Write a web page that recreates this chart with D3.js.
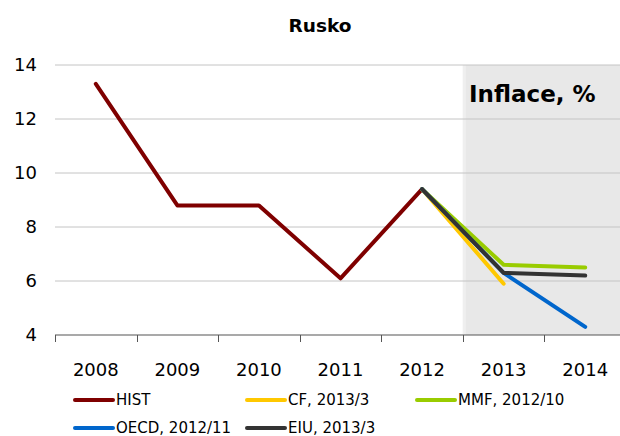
<!DOCTYPE html>
<html>
<head>
<meta charset="utf-8">
<script src="https://cdn.jsdelivr.net/npm/d3@7"></script>
<style>
  body { margin: 0; background: #fff; }
  svg { display: block; font-family: "DejaVu Sans", Verdana, sans-serif; }
</style>
</head>
<body>
<div id="chart"></div>
<script>
// data
const years = ["2008", "2009", "2010", "2011", "2012", "2013", "2014"];
const forecastYears = ["2013", "2014"];
const yTicks = [4, 6, 8, 10, 12, 14];

const hist = [13.3, 8.8, 8.8, 6.1, 9.4];          // 2008..2012
const cf   = [9.4, 5.9];                           // 2012..2013
const mmf  = [9.4, 6.6, 6.5];                      // 2012..2014
const oecd = [9.4, 6.3, 4.3];
const eiu  = [9.4, 6.3, 6.2];

const seriesNames = ["HIST", "CF, 2013/3", "MMF, 2012/10", "OECD, 2012/11", "EIU, 2013/3"];
const seriesColors = ["#7f0000", "#ffc800", "#99cc00", "#0066cc", "#333333"];

const width = 620, height = 436;
const margin = { top: 65, right: -6, bottom: 101, left: 55 };

const svg = d3.select("#chart")
    .append("svg")
    .attr("width", width)
    .attr("height", height);

const x = d3.scaleBand()
    .domain(years)
    .range([margin.left, width - margin.right]);

const y = d3.scaleLinear()
    .domain([4, 14])
    .range([height - margin.bottom, margin.top]);

const cx = d => x(d) + x.bandwidth() / 2;

// shaded forecast area
const shadeX = x(forecastYears[0]);
svg.append("rect")
    .attr("x", shadeX)
    .attr("y", y(14))
    .attr("width", width - shadeX)
    .attr("height", y(4) - y(14))
    .style("fill", "#e8e8e8");
svg.append("rect")
    .attr("x", shadeX)
    .attr("y", y(14))
    .attr("width", 3)
    .attr("height", y(4) - y(14))
    .style("fill", "#efefef");

// gridlines
svg.append("g")
    .selectAll("line")
    .data(yTicks.filter(d => d > 4))
    .enter()
    .append("line")
    .attr("x1", margin.left)
    .attr("x2", width)
    .attr("y1", d => y(d))
    .attr("y2", d => y(d))
    .style("stroke", "#c4c4c4")
    .style("stroke-width", 1);

// y labels
svg.append("g")
    .selectAll("text")
    .data(yTicks)
    .enter()
    .append("text")
    .attr("x", 37)
    .attr("y", d => y(d))
    .attr("dy", "0.36em")
    .attr("text-anchor", "end")
    .style("font-size", "18px")
    .style("fill", "#000")
    .text(d => d);

// x axis
const xAxis = svg.append("g")
    .attr("transform", `translate(0,${y(4)})`);
xAxis.append("line")
    .attr("x1", margin.left)
    .attr("x2", width)
    .style("stroke", "#555")
    .style("stroke-width", 1.2);
xAxis.selectAll("line.tick")
    .data(years)
    .enter()
    .append("line")
    .attr("class", "tick")
    .attr("x1", d => Math.round(x(d)) + 0.5)
    .attr("x2", d => Math.round(x(d)) + 0.5)
    .attr("y1", 0)
    .attr("y2", 7)
    .style("stroke", "#555");
xAxis.selectAll("text")
    .data(years)
    .enter()
    .append("text")
    .attr("x", d => cx(d))
    .attr("y", 35)
    .attr("dy", "0.36em")
    .attr("text-anchor", "middle")
    .style("font-size", "18px")
    .style("fill", "#000")
    .text(d => d);

// lines
const line = d3.line()
    .x(d => cx(d[0]))
    .y(d => y(d[1]));

const seriesData = [
    d3.zip(years.slice(0, 5), hist),
    d3.zip(["2012", "2013"], cf),
    d3.zip(["2012", "2013", "2014"], mmf),
    d3.zip(["2012", "2013", "2014"], oecd),
    d3.zip(["2012", "2013", "2014"], eiu)
];

svg.append("g")
    .selectAll("path")
    .data(seriesData)
    .enter()
    .append("path")
    .attr("d", line)
    .style("fill", "none")
    .style("stroke", (d, i) => seriesColors[i])
    .style("stroke-width", 4)
    .style("stroke-linejoin", "round")
    .style("stroke-linecap", "round");

// title
svg.append("text")
    .attr("x", 320)
    .attr("y", 32)
    .attr("text-anchor", "middle")
    .style("font-size", "18.5px")
    .style("font-weight", "bold")
    .text("Rusko");

svg.append("text")
    .attr("x", 469)
    .attr("y", 102)
    .style("font-size", "23px")
    .style("font-weight", "bold")
    .text("Inflace, %");

// legend
const legendPos = [[73, 400], [245, 400], [415, 400], [73, 428], [245, 428]];
const legend = svg.append("g")
    .selectAll("g")
    .data(seriesNames)
    .enter()
    .append("g")
    .attr("transform", (d, i) => `translate(${legendPos[i][0]},${legendPos[i][1]})`);
legend.append("line")
    .attr("x1", 2)
    .attr("x2", 40)
    .style("stroke", (d, i) => seriesColors[i])
    .style("stroke-width", 4)
    .style("stroke-linecap", "round");
legend.append("text")
    .attr("x", 43)
    .attr("dy", "0.36em")
    .style("font-size", "15px")
    .text(d => d);
</script>
</body>
</html>
